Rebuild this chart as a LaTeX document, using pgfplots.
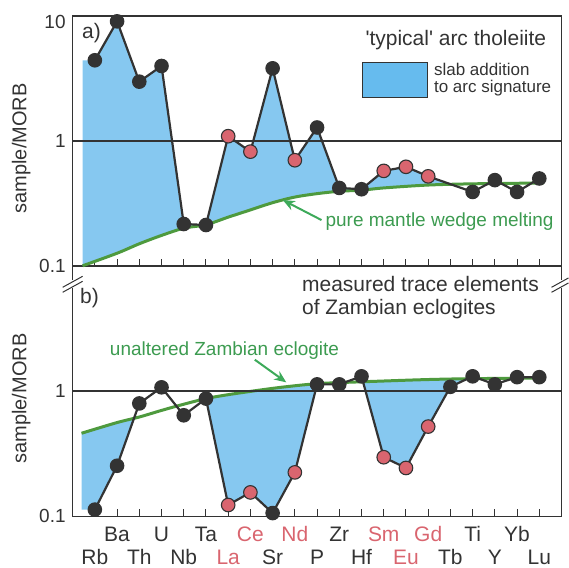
\documentclass[border=0pt]{standalone}
\usepackage{pgfplots}
\pgfplotsset{compat=1.18}
\usepackage{pgfplotstable}
\usepgfplotslibrary{fillbetween}
\usetikzlibrary{arrows.meta}
\usepackage{fontspec}
\setmainfont{Liberation Sans}
\definecolor{tgray}{HTML}{333333}
\definecolor{fillblue}{HTML}{86C8F0}
\definecolor{legblue}{HTML}{66BBEE}
\definecolor{lgreen}{HTML}{4E9A3E}
\definecolor{tgreen}{HTML}{3C9B50}
\definecolor{agreen}{HTML}{3DAA5A}
\definecolor{pinkc}{HTML}{D9656F}

% top panel: typical arc tholeiite (Tb not shown)
\pgfplotstableread{
x y c
0 4.42 b
1 9.06 b
2 2.98 b
3 3.98 b
4 0.216 b
5 0.212 b
6 1.09 r
7 0.82 r
8 3.81 b
9 0.70 r
10 1.28 b
11 0.42 b
12 0.41 b
13 0.575 r
14 0.62 r
15 0.52 r
17 0.39 b
18 0.485 b
19 0.39 b
20 0.50 b
}\topdata

% bottom panel: Zambian eclogites
\pgfplotstableread{
x y c
0 0.113 b
1 0.253 b
2 0.796 b
3 1.07 b
4 0.64 b
5 0.87 b
6 0.123 r
7 0.155 r
8 0.106 b
9 0.224 r
10 1.13 b
11 1.13 b
12 1.31 b
13 0.296 r
14 0.243 r
15 0.52 r
16 1.08 b
17 1.31 b
18 1.13 b
19 1.29 b
20 1.29 b
}\botdata

\pgfplotsset{
  panel/.style={
    scale only axis, width=489.3pt,
    xmin=-1, xmax=21, ymin=0.1, ymax=10,
    xtick={0,...,20}, tick align=inside, xtick pos=bottom, ytick pos=left,
    major tick length=7pt,
    axis line style={tgray, line width=1.5pt},
    tick style={tgray, line width=1pt},
    ytick style={draw=none}, minor tick style={draw=none},
    yticklabel style={font=\fontsize{19}{22}\selectfont, text=tgray, xshift=-3.5pt},
    ylabel={sample/MORB},
    ylabel style={font=\fontsize{20}{24}\selectfont, text=tgray,
      at={(axis description cs:-0.105,0.47)}, anchor=center},
    clip=false,
  },
  dataline/.style={tgray, line width=2.2pt, scatter, scatter src=explicit symbolic,
    scatter/classes={
      b={mark=*, mark size=6.2pt, fill=tgray, draw=tgray},
      r={mark=*, mark size=6.8pt, fill=pinkc, draw=tgray, line width=1.1pt}}},
}

\begin{document}
\begin{tikzpicture}

% ---------------- top panel ----------------
\begin{semilogyaxis}[panel, at={(0pt,250.7pt)}, anchor=south west, height=250pt,
  xticklabels={},
  ytick={0.1,1,10}, yticklabels={0.1,1,\raisebox{-12.5pt}[0pt][0pt]{10}},
]
\addplot[draw=none, name path=A] coordinates {(-0.55,4.42) (0,4.42) (1,9.06) (2,2.98) (3,3.98) (4,0.216) (5,0.212) (6,1.09) (7,0.82) (8,3.81) (9,0.70) (10,1.28) (11,0.42) (12,0.41) (13,0.575) (14,0.62) (15,0.52) (17,0.39) (18,0.485) (19,0.39) (20,0.50)};
\addplot[lgreen, line width=3pt, smooth, name path=G] coordinates {(-0.55,0.1) (1,0.126) (2,0.15) (3,0.175) (4,0.2) (5,0.213) (6,0.245) (7,0.28) (8,0.32) (9,0.355) (10,0.378) (11,0.395) (12,0.403) (13,0.42) (15,0.443) (17,0.453) (20.2,0.46)};
\addplot[fillblue] fill between[of=A and G, soft clip={(axis cs:-0.55,0.1) rectangle (axis cs:16,10)}];
\addplot[tgray, line width=1.8pt] coordinates {(-1,1) (21,1)};
\addplot[dataline] table[x=x, y=y, meta=c] {\topdata};

\node[anchor=west, inner sep=0pt, font=\fontsize{21}{24}\selectfont, text=tgray] at (rel axis cs:0.019,0.93) {a)};
\node[anchor=east, inner sep=0pt, font=\fontsize{21}{24}\selectfont, text=tgray] at (rel axis cs:0.969,0.903) {\textquotesingle typical\textquotesingle\ arc tholeiite};
\draw[fill=legblue, draw=tgray, line width=1pt] (rel axis cs:0.593,0.675) rectangle (rel axis cs:0.726,0.815);
\node[anchor=west, inner sep=0pt, align=left, font=\fontsize{17}{17}\selectfont, text=tgray] at (rel axis cs:0.739,0.745) {slab addition\\to arc signature};
\node[anchor=west, inner sep=0pt, font=\fontsize{19}{22}\selectfont, text=tgreen] at (rel axis cs:0.517,0.176) {pure mantle wedge melting};
\draw[agreen, line width=2pt, -{Stealth[length=12pt,width=10pt]}] (rel axis cs:0.509,0.183) -- (rel axis cs:0.43,0.263);
\end{semilogyaxis}

% ---------------- bottom panel ----------------
\begin{semilogyaxis}[panel, at={(0pt,0pt)}, anchor=south west, height=250.7pt,
  ytick={0.1,1}, yticklabels={0.1,1},
  xticklabels={{\strut\\Rb},{\strut Ba},{\strut\\Th},{\strut U},{\strut\\Nb},{\strut Ta},{\strut\\\color{pinkc}La},{\strut\color{pinkc}Ce},{\strut\\Sr},{\strut\color{pinkc}Nd},{\strut\\P},{\strut Zr},{\strut\\Hf},{\strut\color{pinkc}Sm},{\strut\\\color{pinkc}Eu},{\strut\color{pinkc}Gd},{\strut\\Tb},{\strut Ti},{\strut\\Y},{\strut Yb},{\strut\\Lu}},
  xticklabel style={align=center, anchor=north, inner sep=0pt, yshift=-8.9pt, font=\fontsize{21}{23}\selectfont, text=tgray},
]
\addplot[draw=none, name path=B] coordinates {(-0.6,0.113) (0,0.113) (1,0.253) (2,0.796) (3,1.07) (4,0.64) (5,0.87) (6,0.123) (7,0.155) (8,0.106) (9,0.224) (10,1.13) (11,1.13) (12,1.31) (13,0.296) (14,0.243) (15,0.52) (16,1.08) (17,1.31) (18,1.13) (19,1.29) (20,1.29)};
\addplot[lgreen, line width=3pt, smooth, name path=H] coordinates {(-0.6,0.46) (1,0.56) (2,0.62) (3,0.70) (3.83,0.77) (5,0.87) (6,0.935) (7.47,1.02) (8.67,1.085) (10.2,1.15) (12.9,1.20) (15,1.235) (17,1.255) (20.2,1.27)};
\addplot[fillblue] fill between[of=B and H, soft clip={(axis cs:-0.6,0.1) rectangle (axis cs:1.76,10)}];
\addplot[fillblue] fill between[of=B and H, soft clip={(axis cs:5,0.1) rectangle (axis cs:10,10)}];
\addplot[fillblue] fill between[of=B and H, soft clip={(axis cs:12.06,0.1) rectangle (axis cs:16.78,10)}];
\addplot[tgray, line width=1.8pt] coordinates {(-1,1) (21,1)};
\addplot[dataline] table[x=x, y=y, meta=c] {\botdata};

\node[anchor=west, inner sep=0pt, font=\fontsize{21}{24}\selectfont, text=tgray] at (rel axis cs:0.015,0.871) {b)};
\node[anchor=west, inner sep=0pt, align=left, font=\fontsize{21}{23}\selectfont, text=tgray] at (rel axis cs:0.469,0.874) {measured trace elements\\of Zambian eclogites};
\node[anchor=west, inner sep=0pt, font=\fontsize{19}{22}\selectfont, text=tgreen] at (rel axis cs:0.076,0.662) {unaltered Zambian eclogite};
\draw[agreen, line width=2pt, -{Stealth[length=12pt,width=10pt]}] (rel axis cs:0.3726,0.625) -- (rel axis cs:0.437,0.5345);

% axis break marks
\fill[white] ([shift={(-2pt,-4pt)}]rel axis cs:0,0.928) rectangle ([shift={(2pt,4pt)}]rel axis cs:0,0.928);
\fill[white] ([shift={(-2pt,-4pt)}]rel axis cs:1,0.928) rectangle ([shift={(2pt,4pt)}]rel axis cs:1,0.928);
\draw[tgray, line width=1pt] ([shift={(-10pt,-3.5pt)}]rel axis cs:0,0.928) -- ++(20pt,11pt);
\draw[tgray, line width=1pt] ([shift={(-10pt,-8.5pt)}]rel axis cs:0,0.928) -- ++(20pt,11pt);
\draw[tgray, line width=1pt] ([shift={(-10pt,-3.5pt)}]rel axis cs:1,0.928) -- ++(17pt,9.35pt);
\draw[tgray, line width=1pt] ([shift={(-10pt,-8.5pt)}]rel axis cs:1,0.928) -- ++(17pt,9.35pt);
\end{semilogyaxis}
\path (-72.7pt,-51.3pt) rectangle (496.3pt,516.7pt);
\end{tikzpicture}
\end{document}
